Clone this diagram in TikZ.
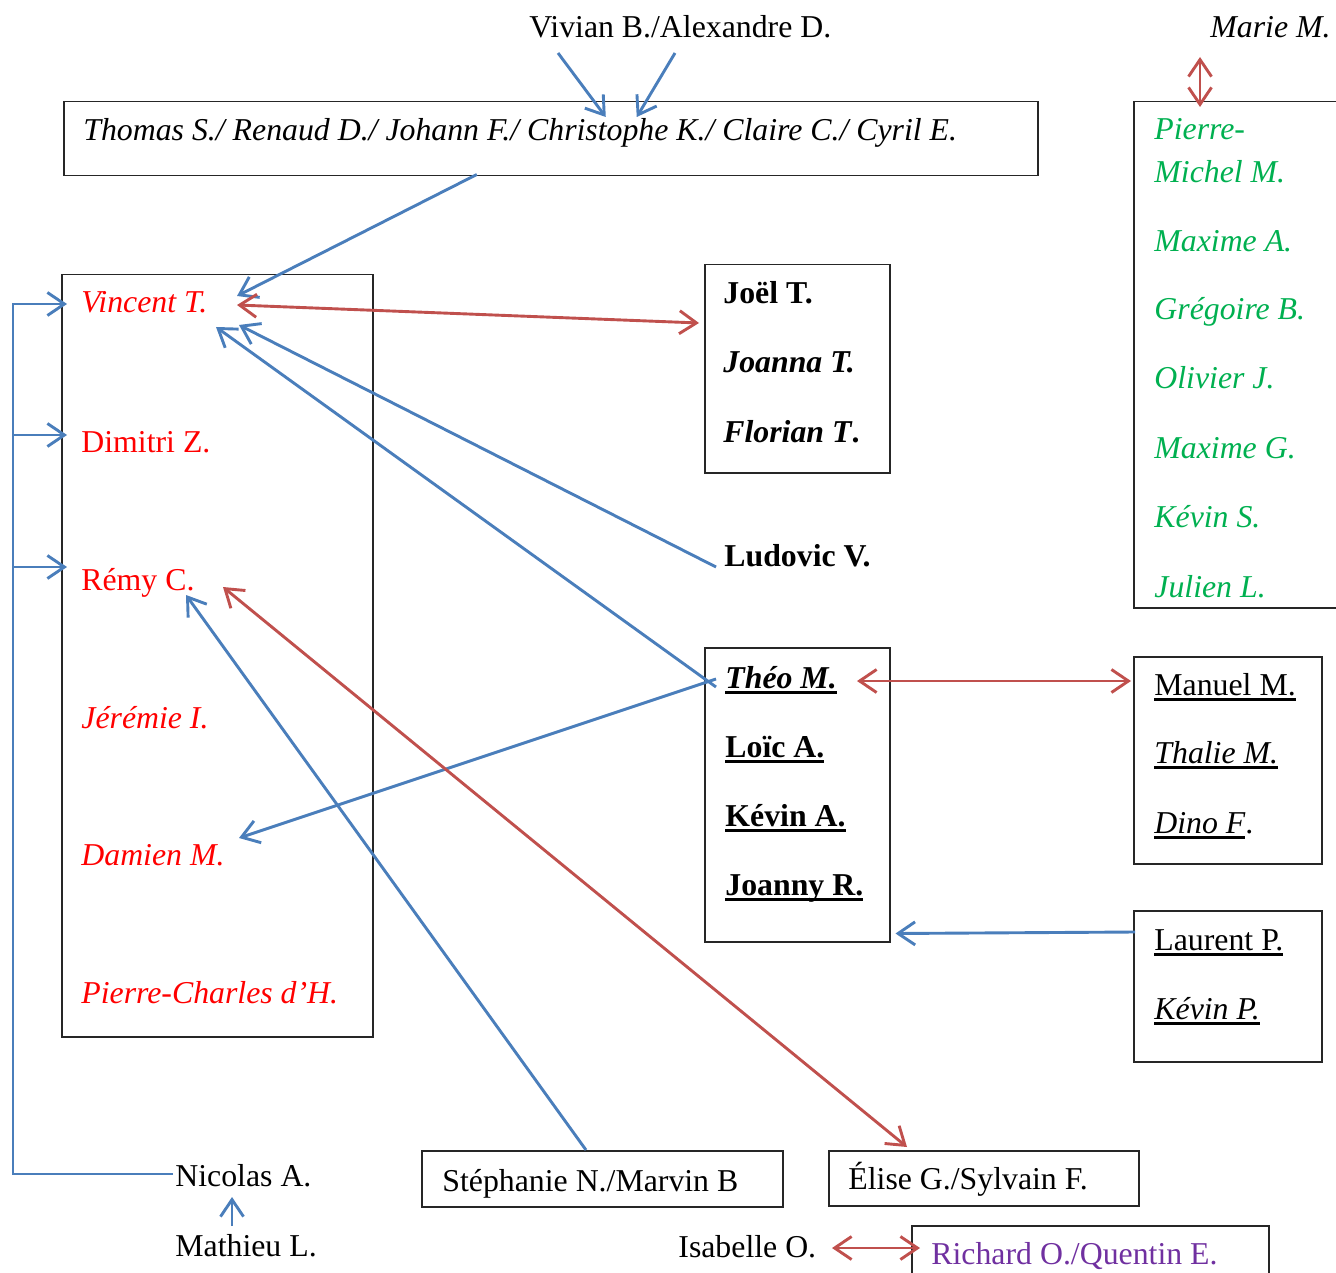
\documentclass[tikz,border=0pt]{standalone}
\usepackage{fontspec}
\setmainfont{Liberation Serif}
\usetikzlibrary{arrows.meta,calc}
\definecolor{cblue}{HTML}{4A7EBB}
\definecolor{cred}{HTML}{C0504D}
\definecolor{tred}{HTML}{FF0000}
\definecolor{tgreen}{HTML}{00B050}
\definecolor{tpurple}{HTML}{7030A0}
\newcommand{\ulx}[2][1.1pt]{\setbox0=\hbox{#2}\rlap{\rule[-2.8pt]{\wd0}{#1}}\box0}
\begin{document}
\begin{tikzpicture}[x=0.5pt,y=-0.5pt,
  txt/.style={inner sep=0pt, anchor=base west, font=\fontsize{15.9}{18}\selectfont},
  box/.style={draw=black!85, line width=0.75pt, inner sep=0pt, anchor=north west},
  tipb/.tip={Straight Barb[length=8.5pt,width=11.5pt]},
  barrow/.style={draw=cblue, line width=1.45pt, -tipb},
  rarrow/.style={draw=cred, line width=1.45pt, tipb-tipb}]
\useasboundingbox (0,0) rectangle (1336,1272);
% boxes
\node[box, minimum width=487pt, minimum height=37pt] (tbox) at (63,101) {};
\node[box, minimum width=106pt, minimum height=253pt] (gbox) at (1133,101) {};
\node[box, minimum width=155.5pt, minimum height=381pt] (lbox) at (61,274) {};
\node[box, minimum width=92.5pt, minimum height=104pt] (jbox) at (704,264) {};
\node[box, minimum width=92.5pt, minimum height=147pt] (thbox) at (704,647) {};
\node[box, minimum width=94pt, minimum height=103.5pt] (mbox) at (1133,656) {};
\node[box, minimum width=94pt, minimum height=75.5pt] (labox) at (1133,910) {};
\node[box, minimum width=180.5pt, minimum height=28pt] (stbox) at (421,1150) {};
\node[box, minimum width=155pt, minimum height=27.5pt] (elbox) at (828,1150) {};
\node[box, minimum width=178.5pt, minimum height=40pt] (ribox) at (911,1225) {};
% texts
\node[txt] (viv) at (529,38) {Vivian B./Alexandre D.};
\node[txt] (marie) at (1210,38) {\itshape Marie M.};
\node[txt] (thomas) at (83,141) {\itshape Thomas S./ Renaud D./ Johann F./ Christophe K./ Claire C./ Cyril E.};
\begin{scope}[every node/.style={txt, text=tgreen, font=\fontsize{15.9}{18}\selectfont\itshape}]
\node (g1) at (1154,140) {Pierre-};
\node (g2) at (1154,183) {Michel M.};
\node (g3) at (1154,252) {Maxime A.};
\node (g4) at (1154,320) {Grégoire B.};
\node (g5) at (1154,389) {Olivier J.};
\node (g6) at (1154,458) {Maxime G.};
\node (g7) at (1154,527) {Kévin S.};
\node (g8) at (1154,597) {Julien L.};
\end{scope}
\begin{scope}[every node/.style={txt, text=tred}]
\node (vincent) at (81,313) {\itshape Vincent T.};
\node (dimitri) at (81,452) {Dimitri Z.};
\node (remy) at (81,590) {Rémy C.};
\node (jeremie) at (81,728) {\itshape Jérémie I.};
\node (damien) at (81,865) {\itshape Damien M.};
\node (pc) at (81,1003) {\itshape Pierre-Charles d’H.};
\end{scope}
\node[txt] (joel) at (723,304) {\bfseries Joël T.};
\node[txt] (joanna) at (723,373) {\bfseries\itshape Joanna T.};
\node[txt] (florian) at (723,443) {\bfseries{\itshape Florian T}.};
\node[txt] (ludovic) at (724,566) {\bfseries Ludovic V.};
\node[txt] (theo) at (725,688) {\bfseries\ulx[1.4pt]{\itshape Théo M.}};
\node[txt] (loic) at (725,757) {\bfseries\ulx[1.4pt]{Loïc A.}};
\node[txt] (kevina) at (725,826) {\bfseries\ulx[1.4pt]{Kévin A.}};
\node[txt] (joanny) at (725,895) {\bfseries\ulx[1.4pt]{Joanny R.}};
\node[txt] (manuel) at (1154,695) {\ulx{Manuel M.}};
\node[txt] (thalie) at (1154,763) {\ulx{\itshape Thalie M.}};
\node[txt] (dino) at (1154,833) {\ulx{\itshape Dino F}.};
\node[txt] (laurent) at (1154,950) {\ulx{Laurent P.}};
\node[txt] (kevinp) at (1154,1019) {\ulx{\itshape Kévin P.}};
\node[txt] (steph) at (442,1191) {Stéphanie N./Marvin B};
\node[txt] (elise) at (848,1189) {Élise G./Sylvain F.};
\node[txt] (nicolas) at (175,1186) {Nicolas A.};
\node[txt] (mathieu) at (175,1256) {Mathieu L.};
\node[txt] (isabelle) at (678,1257) {Isabelle O.};
\node[txt, text=tpurple] (richard) at (931,1264) {Richard O./Quentin E.};
% connectors
\draw[barrow] ($(viv.base west)+(29,15)$) -- ($(tbox.north)+(55,16)$);
\draw[barrow] ($(viv.base west)+(146,15)$) -- ($(tbox.north)+(86,16)$);
\draw[rarrow] ($(marie.base west)+(-10,19)$) -- ($(gbox.north west)+(67,6)$);
\draw[barrow] ($(tbox.south)+(-74,-2)$) -- ($(vincent.base west)+(156,-17)$);
\draw[rarrow] ($(vincent.base west)+(156,-8)$) -- ($(jbox.north west)+(-5,59)$);
\draw[barrow] ($(ludovic.base west)+(-8,1)$) -- ($(vincent.base west)+(158,12)$);
\draw[barrow] ($(theo.base west)+(-9,-1)$) -- ($(vincent.base west)+(135,14)$);
\draw[barrow] ($(theo.base west)+(-9,-9)$) -- ($(damien.base west)+(158,-27)$);
\draw[barrow] ($(stbox.north west)+(165,0)$) -- ($(remy.base west)+(105,5)$);
\draw[rarrow] ($(remy.base west)+(142,-3)$) -- ($(elbox.north west)+(79,-3)$);
\draw[rarrow] ($(theo.base west)+(132,-7)$) -- ($(mbox.north west)+(-2,25)$);
\draw[barrow] ($(labox.north west)+(2,22)$) -- ($(thbox.south east)+(5,-9)$);
\draw[barrow] ($(nicolas.base west)+(-2,-12)$) -| ($(vincent.base west)+(-68,-9)$) -- ($(vincent.base west)+(-14,-9)$);
\draw[barrow] ($(dimitri.base west)+(-68,-17)$) -- ($(dimitri.base west)+(-14,-17)$);
\draw[barrow] ($(remy.base west)+(-68,-23)$) -- ($(remy.base west)+(-14,-23)$);
\draw[barrow] ($(mathieu.base west)+(57,-30)$) -- ($(nicolas.base west)+(57,11)$);
\draw[rarrow] ($(isabelle.base west)+(154,-9)$) -- ($(ribox.north west)+(9,23)$);
\end{tikzpicture}
\end{document}
